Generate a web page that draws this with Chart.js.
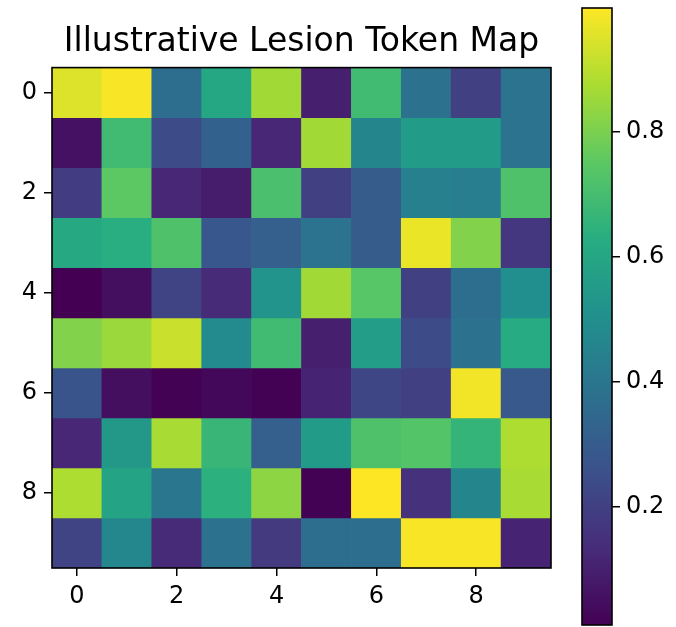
<!DOCTYPE html>
<html>
<head>
<meta charset="utf-8">
<script src="https://cdn.jsdelivr.net/npm/chart.js@4.4.1/dist/chart.umd.min.js"></script>
<style>
    body { margin: 0; background: #fff; }
    #wrap { position: relative; width: 676px; height: 627px; }
    #heat-box { position: absolute; left: 0; top: 0; width: 570px; height: 627px; }
    #bar-box { position: absolute; left: 560px; top: 0; width: 116px; height: 627px; }
</style>
</head>
<body>
<div id="wrap">
    <div id="heat-box"><canvas id="heat"></canvas></div>
    <div id="bar-box"><canvas id="cbar"></canvas></div>
</div>
<script>
// grid values, one array per row (row 0 at the top)
const row0 = [0.95, 0.99, 0.37, 0.60, 0.86, 0.10, 0.69, 0.38, 0.20, 0.39];
const row1 = [0.06, 0.69, 0.24, 0.32, 0.12, 0.86, 0.46, 0.55, 0.55, 0.39];
const row2 = [0.19, 0.75, 0.12, 0.09, 0.71, 0.20, 0.30, 0.44, 0.43, 0.72];
const row3 = [0.61, 0.63, 0.72, 0.28, 0.31, 0.39, 0.30, 0.97, 0.81, 0.17];
const row4 = [0.011, 0.05, 0.21, 0.13, 0.52, 0.86, 0.74, 0.20, 0.37, 0.50];
const row5 = [0.81, 0.85, 0.92, 0.48, 0.69, 0.10, 0.56, 0.24, 0.38, 0.62];
const row6 = [0.27, 0.05, 0.015, 0.03, 0.015, 0.11, 0.22, 0.20, 0.98, 0.29];
const row7 = [0.12, 0.54, 0.87, 0.67, 0.31, 0.55, 0.72, 0.73, 0.66, 0.88];
const row8 = [0.88, 0.59, 0.40, 0.64, 0.83, 0.015, 0.997, 0.15, 0.46, 0.87];
const row9 = [0.21, 0.47, 0.13, 0.38, 0.18, 0.37, 0.37, 0.99, 0.99, 0.11];
const grid = [row0, row1, row2, row3, row4, row5, row6, row7, row8, row9];

const axisTicks = [0, 2, 4, 6, 8];
const barTicks = [0.2, 0.4, 0.6, 0.8];

const vmin = Math.min(...grid.flat());
const vmax = Math.max(...grid.flat());

// viridis stops
const viridis = [
    [0.0, [68, 1, 84]],
    [0.125, [71, 44, 122]],
    [0.25, [59, 81, 139]],
    [0.375, [44, 113, 142]],
    [0.5, [33, 144, 141]],
    [0.625, [39, 173, 129]],
    [0.75, [92, 200, 99]],
    [0.875, [170, 220, 50]],
    [1.0, [253, 231, 37]]
];

function colorFor(v) {
    let t = (v - vmin) / (vmax - vmin);
    t = Math.max(0, Math.min(1, t));
    for (let i = 1; i < viridis.length; i++) {
        if (t <= viridis[i][0]) {
            const [t0, c0] = viridis[i - 1];
            const [t1, c1] = viridis[i];
            const f = (t - t0) / (t1 - t0);
            const c = c0.map((a, k) => Math.round(a + (c1[k] - a) * f));
            return `rgb(${c[0]}, ${c[1]}, ${c[2]})`;
        }
    }
    return 'rgb(253, 231, 37)';
}

const font = { family: 'DejaVu Sans', size: 24 };

// black box around the plot area
const frame = {
    id: 'frame',
    afterDatasetsDraw(chart) {
        const a = chart.chartArea;
        const c = chart.ctx;
        c.save();
        c.strokeStyle = '#000';
        c.lineWidth = 1.6;
        c.strokeRect(a.left, a.top, a.right - a.left, a.bottom - a.top);
        c.restore();
    }
};

function fixTicks(list) {
    return function (scale) {
        scale.ticks = list.map(v => ({ value: v }));
    };
}

const tickGrid = { offset: false, drawOnChartArea: false, drawTicks: true, tickLength: 8, color: '#000', lineWidth: 1.5 };

// each row is one dataset of floating bars spanning r-0.5..r+0.5
const datasets = grid.map((row, r) => ({
    data: row.map((v, c) => ({ x: c, y: [r - 0.5, r + 0.5] })),
    backgroundColor: row.map(v => colorFor(v)),
    borderWidth: 0,
    barPercentage: 1.0,
    categoryPercentage: 1.0,
    grouped: false
}));

new Chart(document.getElementById('heat'), {
    type: 'bar',
    data: { datasets: datasets },
    options: {
        responsive: true,
        maintainAspectRatio: false,
        animation: false,
        layout: { padding: { left: 0, right: 19, top: 0, bottom: 0 } },
        plugins: {
            legend: { display: false },
            tooltip: { enabled: false },
            title: {
                display: true,
                fullSize: false,
                text: 'Illustrative Lesion Token Map',
                color: '#000',
                font: { family: 'DejaVu Sans', size: 33, weight: 'normal' },
                padding: { top: 23, bottom: 5 }
            }
        },
        scales: {
            x: {
                type: 'linear',
                min: -0.5,
                max: 9.5,
                offset: false,
                afterBuildTicks: fixTicks(axisTicks),
                afterFit(scale) { scale.height = 59; },
                grid: tickGrid,
                border: { display: false },
                ticks: { color: '#000', font: font, padding: 6, maxRotation: 0 }
            },
            y: {
                type: 'linear',
                reverse: true,
                min: -0.5,
                max: 9.5,
                afterBuildTicks: fixTicks(axisTicks),
                afterFit(scale) { scale.width = 52; },
                grid: tickGrid,
                border: { display: false },
                ticks: { color: '#000', font: font, padding: 7 }
            }
        }
    },
    plugins: [frame]
});

// colour bar: one floating bar from vmin to vmax filled with the colormap
new Chart(document.getElementById('cbar'), {
    type: 'bar',
    data: {
        labels: ['scale'],
        datasets: [{
            data: [[vmin, vmax]],
            borderWidth: 0,
            barPercentage: 1.0,
            categoryPercentage: 1.0,
            backgroundColor(ctx) {
                const chart = ctx.chart;
                if (!chart.chartArea) return '#fff';
                const ys = chart.scales.y;
                const g = chart.ctx.createLinearGradient(0, ys.getPixelForValue(vmin), 0, ys.getPixelForValue(vmax));
                viridis.forEach(([t, c]) => g.addColorStop(t, `rgb(${c[0]}, ${c[1]}, ${c[2]})`));
                return g;
            }
        }]
    },
    options: {
        responsive: true,
        maintainAspectRatio: false,
        animation: false,
        layout: { padding: { left: 22, right: 0, top: 8, bottom: 2 } },
        plugins: { legend: { display: false }, tooltip: { enabled: false } },
        scales: {
            x: { display: false },
            y: {
                position: 'right',
                min: vmin,
                max: vmax,
                afterBuildTicks: fixTicks(barTicks),
                afterFit(scale) {
                    scale.width = 64;
                    scale.paddingTop = 0;
                    scale.paddingBottom = 0;
                },
                grid: tickGrid,
                border: { display: false },
                ticks: { color: '#000', font: font, padding: 6, callback: v => v.toFixed(1) }
            }
        }
    },
    plugins: [frame]
});
</script>
</body>
</html>
